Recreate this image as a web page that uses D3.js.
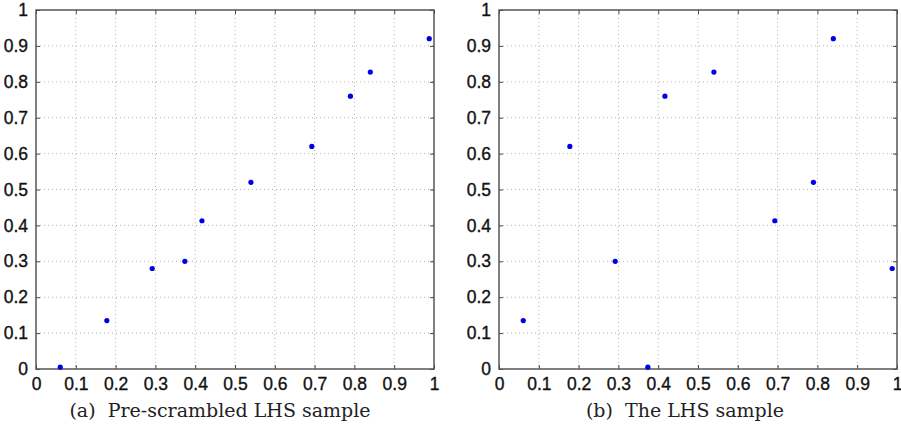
<!DOCTYPE html>
<head>
  <meta charset="utf-8">
  <script src="https://d3js.org/d3.v7.min.js"></script>
  <style>
    body { margin:0; background:#fff; }
    svg { display:block; }
    .cap { white-space: pre; }
  </style>
</head>
<body>
<script type='text/javascript'>
  // sample x positions (shared by both panels)
  var xs = [0.061, 0.178, 0.292, 0.374, 0.417, 0.540, 0.693, 0.790, 0.840, 0.988];
  // y values before scrambling
  var ysPre = [0.005, 0.135, 0.280, 0.300, 0.413, 0.520, 0.620, 0.760, 0.827, 0.920];
  // y values after scrambling
  var ysLhs = [0.135, 0.620, 0.300, 0.005, 0.760, 0.827, 0.413, 0.520, 0.920, 0.280];
  var tickVals = [0, 0.1, 0.2, 0.3, 0.4, 0.5, 0.6, 0.7, 0.8, 0.9, 1];
  var captions = ["(a)  Pre-scrambled LHS sample", "(b)  The LHS sample"];

  var svg = d3.select('body').append('svg')
    .attr('width', 901).attr('height', 432);

  var fmt = function(d) { return d === 0 ? "0" : d === 1 ? "1" : d3.format(".1f")(d); };

  function panel(left, ys, caption, capX) {
    var top = 10, w = 398, h = 359;
    var x = d3.scaleLinear().domain([0, 1]).range([left, left + w]);
    var y = d3.scaleLinear().domain([0, 1]).range([top + h, top]);
    var g = svg.append('g');

    // dotted grid
    g.selectAll('.gx').data(tickVals.slice(1, -1)).enter().append('line')
      .attr('x1', d => x(d)).attr('x2', d => x(d))
      .attr('y1', top).attr('y2', top + h)
      .attr('stroke', '#b4b4b4').attr('stroke-width', 1)
      .attr('stroke-dasharray', '1,3');
    g.selectAll('.gy').data(tickVals.slice(1, -1)).enter().append('line')
      .attr('y1', d => y(d)).attr('y2', d => y(d))
      .attr('x1', left).attr('x2', left + w)
      .attr('stroke', '#b4b4b4').attr('stroke-width', 1)
      .attr('stroke-dasharray', '1,3');

    // axes with inward ticks
    var ax = [
      [d3.axisBottom(x), 'translate(0,' + (top + h) + ')', true],
      [d3.axisTop(x), 'translate(0,' + top + ')', false],
      [d3.axisLeft(y), 'translate(' + left + ',0)', true],
      [d3.axisRight(y), 'translate(' + (left + w) + ',0)', false]
    ];
    ax.forEach(function(a, i) {
      var axis = a[0].tickValues(tickVals).tickSizeInner(-4).tickSizeOuter(0)
        .tickPadding(i === 0 ? 9 : 8).tickFormat(a[2] ? fmt : "");
      var ga = g.append('g').attr('transform', a[1]).call(axis);
      ga.select('.domain').remove();
      ga.selectAll('line').attr('stroke', '#444').attr('stroke-width', 1);
      ga.selectAll('text')
        .attr('font-family', "'Liberation Sans', Arial, sans-serif")
        .attr('font-size', 17.5).attr('fill', '#111')
        .attr('stroke', '#111').attr('stroke-width', 0.35);
    });

    // frame
    g.append('rect').attr('x', left).attr('y', top).attr('width', w).attr('height', h)
      .attr('fill', 'none').attr('stroke', '#555').attr('stroke-width', 1.5);

    // points
    g.selectAll('circle').data(d3.zip(xs, ys)).enter().append('circle')
      .attr('cx', d => x(d[0])).attr('cy', d => y(d[1]))
      .attr('r', 2.6).attr('fill', '#0000e6');

    svg.append('text').attr('class', 'cap').attr('x', capX).attr('y', 417)
      .attr('text-anchor', 'middle')
      .attr('font-family', "'DejaVu Serif', 'Liberation Serif', serif")
      .attr('font-size', 19).attr('fill', '#222')
      .text(caption);
  }

  panel(36, ysPre, captions[0], 220);
  panel(499, ysLhs, captions[1], 685);
</script>
</body>
